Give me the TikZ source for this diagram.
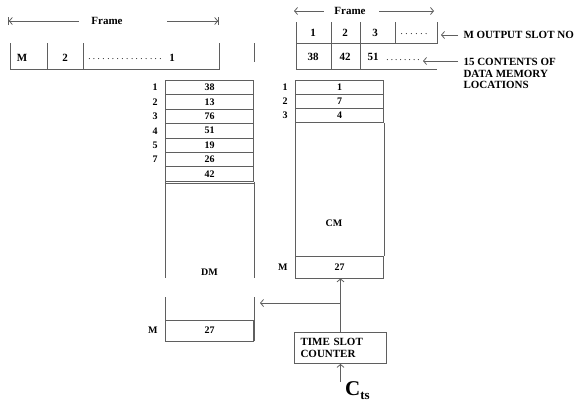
\documentclass[tikz,border=0pt]{standalone}
\usepackage{fontspec}
\setmainfont{Liberation Serif}
\usepackage{xcolor}
\usetikzlibrary{arrows.meta, positioning, calc}
\definecolor{lineGray}{RGB}{95,95,95}
\tikzstyle{arrow}    = [-{Straight Barb[length=3pt,width=7pt]}, line width=0.8pt, lineGray]
\tikzstyle{bararrow} = [-{Straight Barb[length=3pt,width=7pt,sep=0pt]Bar[width=8pt]}, line width=0.8pt, lineGray]
\newcommand{\spacedots}[2]{\foreach \k in {1,...,#1}{.\hspace{#2}}\unskip}

\begin{document}
\begin{tikzpicture}[x=1pt, y=-1pt,
  cell/.style={draw=lineGray, line width=0.8pt, minimum width=88pt, minimum height=14.4pt, inner sep=0pt, font=\fontsize{10}{11}\selectfont\bfseries},
  idx/.style={font=\fontsize{10}{11}\selectfont\bfseries},
  lbl/.style={font=\fontsize{11}{11.5}\selectfont\bfseries, align=left},
  wall/.style={lineGray, line width=0.8pt}
]
\useasboundingbox (0,0) rectangle (585,402);

% Frame of output slots (left)
\node[lbl] (frameL) at (107,21) {Frame};
\coordinate (flA) at (8,21);
\coordinate (flB) at (219,21);
\draw[bararrow] ([xshift=-9pt]frameL.west) -- (flA);
\draw[bararrow] ([xshift=41pt]frameL.east) -- (flB);
\draw[wall] (10,43) -- (10,69) -- (219,69) -- (219,43);
\draw[wall] (47,43) -- (47,69);
\draw[wall] (83,43) -- (83,69);
\draw[wall] (254,43) -- (254,62);
\node[lbl] (slotM) at (22,58) {M};
\node[lbl] (slot2) at (65,58) {2};
\node[lbl, font=\fontsize{9}{10}\selectfont] (slotdots) at (125,59) {\spacedots{16}{2.5pt}};
\node[lbl] (slot1) at (172,58) {1};

% Frame of output slots (right)
\node[lbl] (frameR) at (350,11) {Frame};
\coordinate (frA) at (294,11);
\coordinate (frB) at (434,11);
\draw[arrow] ([xshift=-7pt]frameR.west) -- (frA);
\draw[arrow] ([xshift=10pt]frameR.east) -- (frB);
\draw[wall] (296,22) -- (296,69) -- (437,69);
\draw[wall] (296,43) -- (437,43) -- (437,22);
\draw[wall] (331,22) -- (331,69);
\draw[wall] (360,22) -- (360,69);
\draw[wall] (395,22) -- (395,43);
\node[lbl] (out1) at (313,33) {1};
\node[lbl] (out2) at (345,33) {2};
\node[lbl] (out3) at (375,33) {3};
\node[lbl, font=\fontsize{9}{10}\selectfont] (outdots) at (414,34) {\spacedots{6}{2.7pt}};
\node[lbl] (val1) at (313,57) {38};
\node[lbl] (val2) at (345,57) {42};
\node[lbl] (val3) at (373,57) {51};
\node[lbl, font=\fontsize{9}{10}\selectfont] (valdots) at (403,60) {\spacedots{8}{2.2pt}};

% Side labels
\node[lbl, anchor=west] (outslot) at (460,35) {M OUTPUT SLOT NO};
\coordinate (slotend) at (441,35);
\draw[arrow] ([xshift=-2pt]outslot.west) -- (slotend);
\node[lbl, anchor=north west] (contents) at (460,55) {15 CONTENTS OF\\DATA MEMORY\\LOCATIONS};
\coordinate (contentsend) at (423,61);
\draw[arrow] ([xshift=-2pt]contents.north west |- contentsend) -- (contentsend);

% Data memory
\foreach \v [count=\i] in {38,13,76,51,19,26,42}
  \node[cell] (dm\i) at (209.5, 73+14.43*\i) {\v};
\foreach \n [count=\i] in {1,2,3,4,5,7}
  \node[idx, left=4pt of dm\i] (dmno\i) {\n};
\draw[wall] ($(dm7.south west)+(0,2)$) -- ($(dm7.south east)+(0,2)$);
\draw[wall] (dm7.south west) -- ++(0,96);
\draw[wall] (dm7.south east) -- ++(0,96);
\node[idx] (dmname) at (209.5,272) {DM};
\node[cell, minimum height=21pt] (dmslot) at (209.5,330.5) {27};
\node[idx, left=4pt of dmslot] (dmslotno) {M};
\draw[wall] (dmslot.south west) -- ++(0,-44);
\draw[wall] (dmslot.south east) -- ++(0,-44);

% Control memory
\foreach \v [count=\i] in {1,7,4}
  \node[cell] (cm\i) at (339.5, 73+14.2*\i) {\v};
\foreach \i in {1,2,3}
  \node[idx, left=4pt of cm\i] (cmno\i) {\i};
\node[cell, minimum height=22pt] (cmslot) at (339.5,267) {27};
\node[idx, left=4pt of cmslot] (cmslotno) {M};
\draw[wall] (cm3.south west) -- (cmslot.north west);
\draw[wall] (cm3.south east) -- (cmslot.north east);
\node[idx] (cmname) at (334,223) {CM};

% Time slot counter
\node[draw=lineGray, line width=0.8pt, lbl, text width=80pt, inner xsep=6pt, minimum height=31pt] (counter) at (340.5,348) {TIME SLOT\\COUNTER};
\node[inner sep=0pt, anchor=west] (cts) at (345,391) {{\fontsize{21}{22}\selectfont\bfseries C}\raisebox{-4pt}{\fontsize{13}{14}\selectfont\bfseries ts}};
\coordinate (ctsfoot) at (340.5,382);
\coordinate (dmfeed) at (260,303);

% Arrows
\draw[arrow] (ctsfoot) -- (counter.south);
\draw[arrow] (counter.north) -- (counter.north |- cmslot.south);
\draw[arrow] (counter.north |- dmfeed) -- (dmfeed);

\end{tikzpicture}
\end{document}
